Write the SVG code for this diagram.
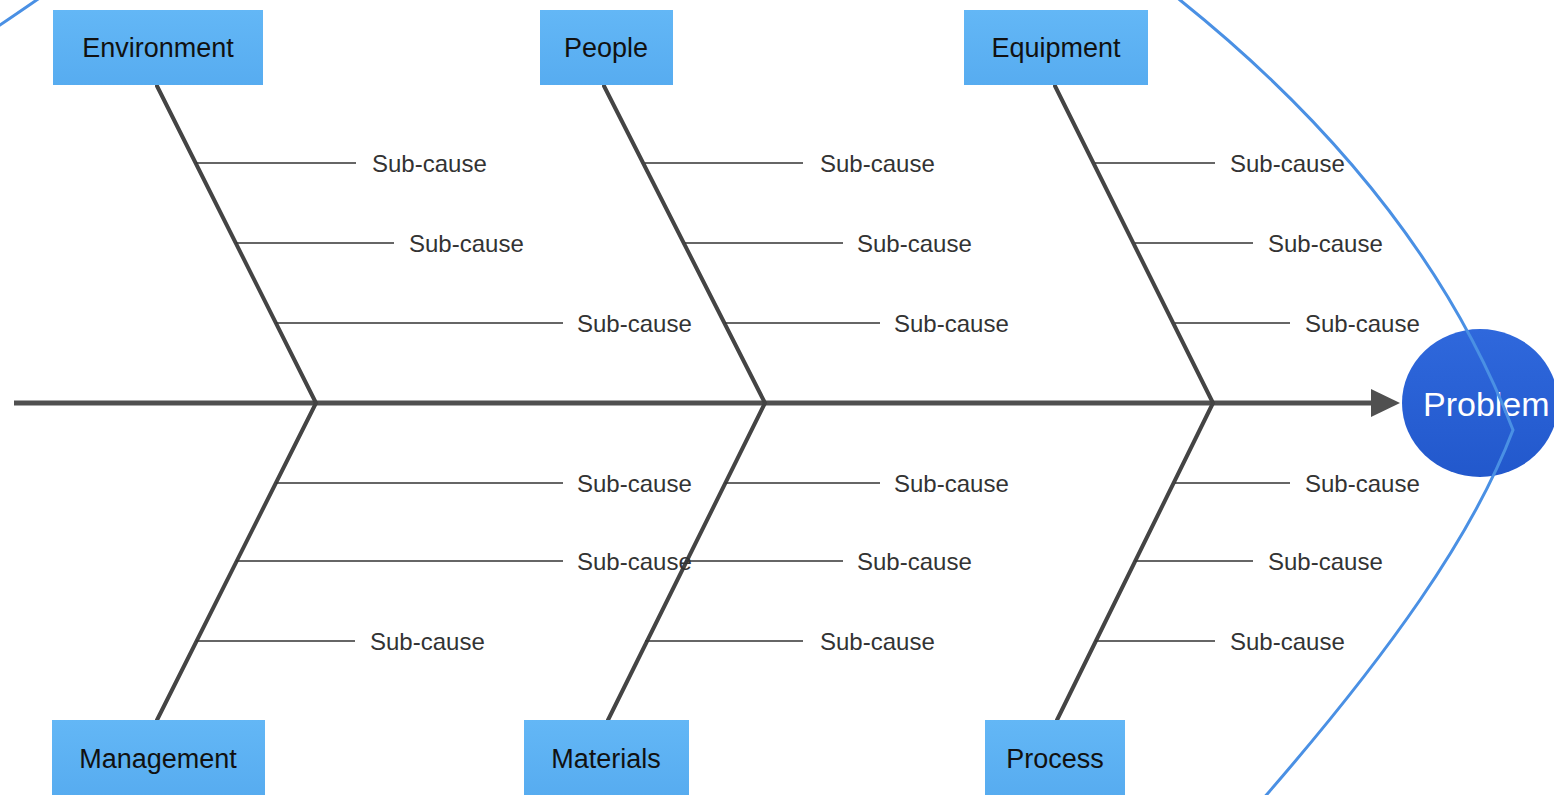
<svg xmlns="http://www.w3.org/2000/svg" width="1554" height="795" viewBox="0 0 1554 795">
  <defs>
    <linearGradient id="boxg" x1="0" y1="0" x2="0" y2="1">
      <stop offset="0" stop-color="#63b7f6"/>
      <stop offset="1" stop-color="#57acf0"/>
    </linearGradient>
    <linearGradient id="probg" x1="0" y1="0" x2="0" y2="1">
      <stop offset="0" stop-color="#2f68dc"/>
      <stop offset="1" stop-color="#2258cc"/>
    </linearGradient>
  </defs>
  <style>
    .box { fill: url(#boxg); }
    .lbl { font-family: "Liberation Sans", Arial, sans-serif; font-size: 27px; fill: #111; text-anchor: middle; }
    .sub { font-family: "Liberation Sans", Arial, sans-serif; font-size: 24px; fill: #333; }
    .spine { stroke: #444; stroke-width: 4; fill: none; stroke-linecap: round; }
    .twig { stroke: #333; stroke-width: 1.5; fill: none; }
    .axis { stroke: #505050; stroke-width: 5; fill: none; }
    .arc { stroke: #4a90e4; stroke-width: 3; fill: none; }
  </style>
  <rect width="1554" height="795" fill="#ffffff"/>

  <g id="connectors">
    <line class="axis" x1="14" y1="403" x2="1374" y2="403"/>
    <polygon points="1371,389 1400,403 1371,417" fill="#505050"/>
    <line class="spine" x1="157" y1="86" x2="316" y2="403"/>
    <line class="spine" x1="604" y1="86" x2="765" y2="403"/>
    <line class="spine" x1="1055" y1="86" x2="1213" y2="403"/>
    <line class="spine" x1="157" y1="720" x2="316" y2="403"/>
    <line class="spine" x1="608" y1="720" x2="765" y2="403"/>
    <line class="spine" x1="1057" y1="720" x2="1213" y2="403"/>
    <line class="twig" x1="196" y1="163" x2="356" y2="163"/>
    <line class="twig" x1="236" y1="243" x2="394" y2="243"/>
    <line class="twig" x1="276" y1="323" x2="563" y2="323"/>
    <line class="twig" x1="645" y1="163" x2="803" y2="163"/>
    <line class="twig" x1="685" y1="243" x2="843" y2="243"/>
    <line class="twig" x1="725" y1="323" x2="880" y2="323"/>
    <line class="twig" x1="1095" y1="163" x2="1215" y2="163"/>
    <line class="twig" x1="1135" y1="243" x2="1253" y2="243"/>
    <line class="twig" x1="1175" y1="323" x2="1290" y2="323"/>
    <line class="twig" x1="276" y1="483" x2="563" y2="483"/>
    <line class="twig" x1="236" y1="561" x2="563" y2="561"/>
    <line class="twig" x1="196" y1="641" x2="355" y2="641"/>
    <line class="twig" x1="725" y1="483" x2="880" y2="483"/>
    <line class="twig" x1="685" y1="561" x2="843" y2="561"/>
    <line class="twig" x1="645" y1="641" x2="803" y2="641"/>
    <line class="twig" x1="1175" y1="483" x2="1290" y2="483"/>
    <line class="twig" x1="1135" y1="561" x2="1253" y2="561"/>
    <line class="twig" x1="1095" y1="641" x2="1215" y2="641"/>
  </g>

  <g id="subcauses">
    <text class="sub" x="372" y="172">Sub-cause</text>
    <text class="sub" x="409" y="252">Sub-cause</text>
    <text class="sub" x="577" y="332">Sub-cause</text>
    <text class="sub" x="820" y="172">Sub-cause</text>
    <text class="sub" x="857" y="252">Sub-cause</text>
    <text class="sub" x="894" y="332">Sub-cause</text>
    <text class="sub" x="1230" y="172">Sub-cause</text>
    <text class="sub" x="1268" y="252">Sub-cause</text>
    <text class="sub" x="1305" y="332">Sub-cause</text>
    <text class="sub" x="577" y="492">Sub-cause</text>
    <text class="sub" x="577" y="570">Sub-cause</text>
    <text class="sub" x="370" y="650">Sub-cause</text>
    <text class="sub" x="894" y="492">Sub-cause</text>
    <text class="sub" x="857" y="570">Sub-cause</text>
    <text class="sub" x="820" y="650">Sub-cause</text>
    <text class="sub" x="1305" y="492">Sub-cause</text>
    <text class="sub" x="1268" y="570">Sub-cause</text>
    <text class="sub" x="1230" y="650">Sub-cause</text>
  </g>

  <g id="environment">
    <rect class="box" x="53" y="10" width="210" height="75"/>
    <text class="lbl" x="158" y="57">Environment</text>
  </g>
  <g id="people">
    <rect class="box" x="540" y="10" width="133" height="75"/>
    <text class="lbl" x="606" y="57">People</text>
  </g>
  <g id="equipment">
    <rect class="box" x="964" y="10" width="184" height="75"/>
    <text class="lbl" x="1056" y="57">Equipment</text>
  </g>
  <g id="management">
    <rect class="box" x="52" y="720" width="213" height="75"/>
    <text class="lbl" x="158" y="768">Management</text>
  </g>
  <g id="materials">
    <rect class="box" x="524" y="720" width="165" height="75"/>
    <text class="lbl" x="606" y="768">Materials</text>
  </g>
  <g id="process">
    <rect class="box" x="985" y="720" width="140" height="75"/>
    <text class="lbl" x="1055" y="768">Process</text>
  </g>

  <g id="problem">
    <ellipse cx="1480" cy="403" rx="78" ry="74" fill="url(#probg)"/>
    <text x="1423" y="416" font-family="'Liberation Sans', Arial, sans-serif" font-size="34" fill="#ffffff">Problem</text>
  </g>

  <g id="outline">
    <path class="arc" d="M-6,29 Q15,15 41,-3"/>
    <path class="arc" d="M1172,-7 L1180,0 C1362,146 1460,292 1513,430 C1472.7,536 1388.9,654 1262,800"/>
  </g>
</svg>
